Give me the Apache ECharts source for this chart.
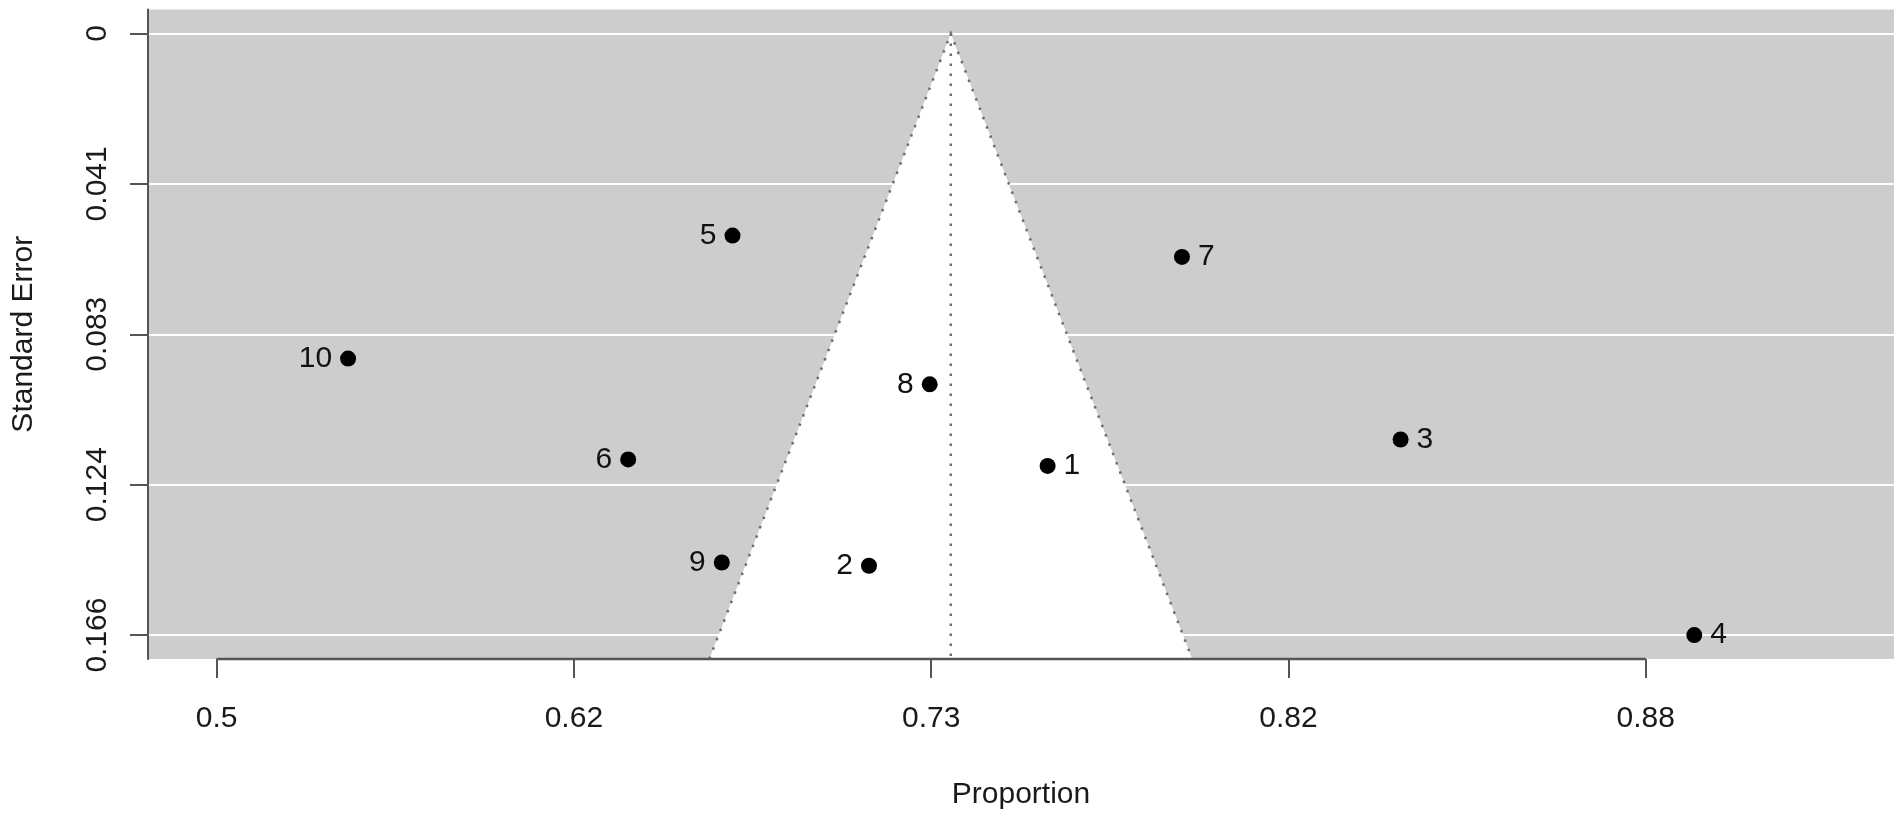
<!DOCTYPE html>
<html>
<head>
<meta charset="utf-8">
<script src="https://cdn.jsdelivr.net/npm/echarts@6/dist/echarts.min.js"></script>
<style>
  html, body { margin: 0; padding: 0; background: #fff; }
  #funnel-chart { width: 1902px; height: 817px; }
</style>
</head>
<body>
<div id="funnel-chart"></div>
<script>
// study labels, logit proportions and standard errors
var studyIds = ['1', '2', '3', '4', '5', '6', '7', '8', '9', '10'];
var studyLogit = [1.163, 0.913, 1.657, 2.068, 0.722, 0.576, 1.351, 0.998, 0.707, 0.184];
var studySE = [0.1192, 0.1467, 0.1119, 0.1658, 0.0557, 0.1174, 0.0616, 0.0967, 0.1458, 0.0896];

// pooled estimate (logit) and funnel width
var pooledLogit = 1.0275;
var zCrit = 1.96;

// axis ticks (x on logit scale, labels back-transformed)
var xTicks = [0, 0.5, 1, 1.5, 2];
var xTickLabels = ['0.5', '0.62', '0.73', '0.82', '0.88'];
var yTicks = [0, 0.04145, 0.0829, 0.12435, 0.1658];
var yTickLabels = ['0', '0.041', '0.083', '0.124', '0.166'];

// axis ranges (R adds 4% on each side)
var xMin = -0.096, xMax = 2.3475;
var yMin = -0.0066, yMax = 0.1724;

var FONT = '"Liberation Sans", Arial, sans-serif';

function tickLabel(ticks, labels, v) {
    for (var i = 0; i < ticks.length; i++) {
        if (Math.abs(ticks[i] - v) < 1e-9) return labels[i];
    }
    return '';
}

var points = studyLogit.map(function (x, i) {
    return {
        value: [x, studySE[i]],
        name: studyIds[i],
        label: { position: x < pooledLogit ? 'left' : 'right' }
    };
});

var e = echarts.init(document.getElementById('funnel-chart'));

var option = {
    animation: false,
    backgroundColor: '#ffffff',
    grid: {
        left: 148,
        right: 8,
        top: 9.5,
        bottom: 158,
        show: true,
        backgroundColor: '#cdcdcd',
        borderWidth: 0
    },
    xAxis: {
        type: 'value',
        position: 'bottom',
        min: xMin,
        max: xMax,
        name: 'Proportion',
        nameLocation: 'middle',
        nameGap: 121,
        nameTextStyle: { fontFamily: FONT, fontSize: 30, color: '#1a1a1a' },
        axisLine: { show: false, onZero: false },
        axisTick: {
            show: true,
            inside: false,
            length: 19,
            customValues: xTicks,
            lineStyle: { color: '#555', width: 2 }
        },
        axisLabel: {
            customValues: xTicks,
            margin: 45,
            fontFamily: FONT,
            fontSize: 30,
            color: '#1a1a1a',
            formatter: function (v) { return tickLabel(xTicks, xTickLabels, v); }
        },
        splitLine: { show: false }
    },
    yAxis: {
        type: 'value',
        position: 'left',
        inverse: true,
        min: yMin,
        max: yMax,
        name: 'Standard Error',
        nameLocation: 'middle',
        nameRotate: 90,
        nameGap: 109,
        nameTextStyle: { fontFamily: FONT, fontSize: 30, color: '#1a1a1a' },
        axisLine: { show: true, onZero: false, lineStyle: { color: '#555', width: 2 } },
        axisTick: {
            show: true,
            inside: false,
            length: 18,
            customValues: yTicks,
            lineStyle: { color: '#555', width: 2 }
        },
        axisLabel: {
            customValues: yTicks,
            rotate: 90,
            margin: 35,
            fontFamily: FONT,
            fontSize: 30,
            color: '#1a1a1a',
            formatter: function (v) { return tickLabel(yTicks, yTickLabels, v); }
        },
        splitLine: { show: true, lineStyle: { color: '#ffffff', width: 2 } }
    },
    series: [
        {
            // white pseudo confidence region with dotted edges and centre line
            name: 'funnel',
            type: 'custom',
            z: 1,
            silent: true,
            data: [[pooledLogit, 0]],
            renderItem: function (params, api) {
                var top = api.coord([pooledLogit, 0]);
                var bl = api.coord([pooledLogit - zCrit * yMax, yMax]);
                var br = api.coord([pooledLogit + zCrit * yMax, yMax]);
                var bc = api.coord([pooledLogit, yMax]);
                var dotted = { stroke: '#6e6e6e', lineWidth: 2.5, lineDash: [2.5, 7.5], fill: null };
                return {
                    type: 'group',
                    children: [
                        { type: 'polygon', shape: { points: [top, bl, br] }, style: { fill: '#ffffff' } },
                        { type: 'polyline', shape: { points: [bl, top, br] }, style: dotted },
                        { type: 'line', shape: { x1: top[0], y1: top[1], x2: bc[0], y2: bc[1] }, style: dotted }
                    ]
                };
            }
        },
        {
            name: 'studies',
            type: 'scatter',
            z: 3,
            symbol: 'circle',
            symbolSize: 16,
            itemStyle: { color: '#000', opacity: 1 },
            label: {
                show: true,
                distance: 8,
                fontFamily: FONT,
                fontSize: 30,
                color: '#111',
                formatter: function (p) { return p.name; }
            },
            data: points
        },
        {
            // x axis line, drawn only between first and last tick as in R
            name: 'xaxis',
            type: 'line',
            z: 4,
            silent: true,
            clip: false,
            symbol: 'none',
            lineStyle: { color: '#555', width: 2.5 },
            data: [[xTicks[0], yMax], [xTicks[xTicks.length - 1], yMax]]
        }
    ]
};

e.setOption(option);
</script>
</body>
</html>
